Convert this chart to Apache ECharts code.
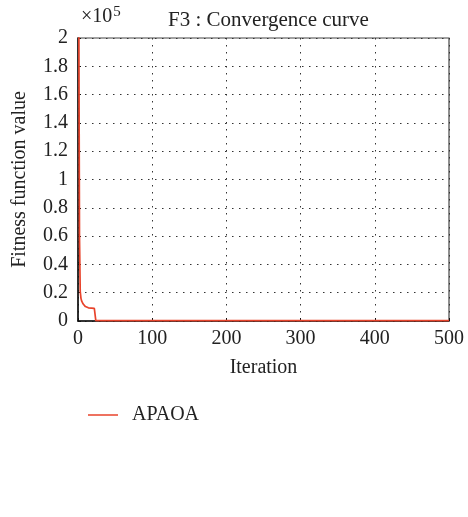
<!DOCTYPE html>
<html>
<head>
<meta charset="utf-8">
<script src="https://cdn.jsdelivr.net/npm/echarts@6/dist/echarts.min.js"></script>
<style>
  html, body { margin: 0; padding: 0; background: #fff; }
  #chart { width: 468px; height: 517px; }
</style>
</head>
<body>
<div id="chart"></div>
<script>
// Convergence history of APAOA on benchmark F3 (best fitness per iteration)
const iterations = [1, 2, 3, 4, 5, 6, 7, 8, 10, 12, 14, 16, 18, 20, 22, 23, 24, 50, 100, 200, 300, 400, 500];
const fitness = [240000, 60000, 21000, 16000, 14000, 13000, 12000, 11000, 10200, 9600, 9300, 9200, 9100, 9000, 8900, 8800, 300, 300, 300, 300, 300, 300, 300];

const xTicks = [0, 100, 200, 300, 400, 500];
const yTicks = [0, 0.2, 0.4, 0.6, 0.8, 1, 1.2, 1.4, 1.6, 1.8, 2];
const yScale = 1e5;

const seriesName = 'APAOA';
const titleText = 'F3 : Convergence curve';
const xName = 'Iteration';
const yName = 'Fitness function value';

const FONT = 'Liberation Serif';
const INK = '#222';
const FS = 20;

const chart = echarts.init(document.getElementById('chart'), null, { renderer: 'canvas' });

const points = iterations.map((it, i) => [it, fitness[i]]);

chart.setOption({
  animation: false,
  backgroundColor: '#fff',
  textStyle: { fontFamily: FONT },
  title: {
    text: titleText,
    left: 263.5,
    textAlign: 'center',
    top: 5,
    textStyle: { fontFamily: FONT, fontSize: 21, fontWeight: 'normal', color: INK }
  },
  graphic: [{
    type: 'text',
    left: 81,
    top: 5,
    style: {
      text: '×10{sup|5}',
      fontFamily: FONT,
      fontSize: FS,
      fill: INK,
      rich: {
        sup: { fontFamily: FONT, fontSize: 15, fill: INK, verticalAlign: 'top', padding: [0, 0, 9, 1] }
      }
    }
  }],
  legend: {
    data: [seriesName],
    left: 83,
    top: 400,
    icon: 'rect',
    itemWidth: 30,
    itemHeight: 1.5,
    textStyle: { fontFamily: FONT, fontSize: FS, color: INK, padding: [0, 0, 0, 9] }
  },
  grid: {
    left: 78,
    right: 19,
    top: 38,
    bottom: 196,
    show: true,
    borderColor: '#444',
    borderWidth: 1.2,
    containLabel: false
  },
  xAxis: {
    type: 'value',
    min: xTicks[0],
    max: xTicks[xTicks.length - 1],
    interval: xTicks[1] - xTicks[0],
    name: xName,
    nameLocation: 'middle',
    nameGap: 37,
    nameTextStyle: { fontFamily: FONT, fontSize: FS, color: INK },
    axisLine: { show: true, lineStyle: { color: '#111', width: 1.5 } },
    axisTick: { show: true, inside: true, length: 3, lineStyle: { color: '#111' } },
    axisLabel: { margin: 8, fontFamily: FONT, fontSize: FS, color: INK },
    splitLine: { show: true, lineStyle: { color: '#333', width: 1, type: [1.5, 5.5] } }
  },
  yAxis: {
    type: 'value',
    min: yTicks[0] * yScale,
    max: yTicks[yTicks.length - 1] * yScale,
    interval: (yTicks[1] - yTicks[0]) * yScale,
    name: yName,
    nameLocation: 'middle',
    nameGap: 48,
    nameTextStyle: { fontFamily: FONT, fontSize: FS, color: INK },
    axisLine: { show: true, lineStyle: { color: '#111', width: 1.5 } },
    axisTick: { show: true, inside: true, length: 3, lineStyle: { color: '#111' } },
    axisLabel: {
      margin: 10,
      fontFamily: FONT,
      fontSize: FS,
      color: INK,
      formatter: v => String(+(v / yScale).toFixed(1))
    },
    splitLine: { show: true, lineStyle: { color: '#333', width: 1, type: [1.5, 5.5] } }
  },
  series: [{
    name: seriesName,
    type: 'line',
    data: points,
    symbol: 'none',
    clip: true,
    lineStyle: { color: '#e8432b', width: 1.7 },
    itemStyle: { color: '#e8432b' }
  }]
});
</script>
</body>
</html>
